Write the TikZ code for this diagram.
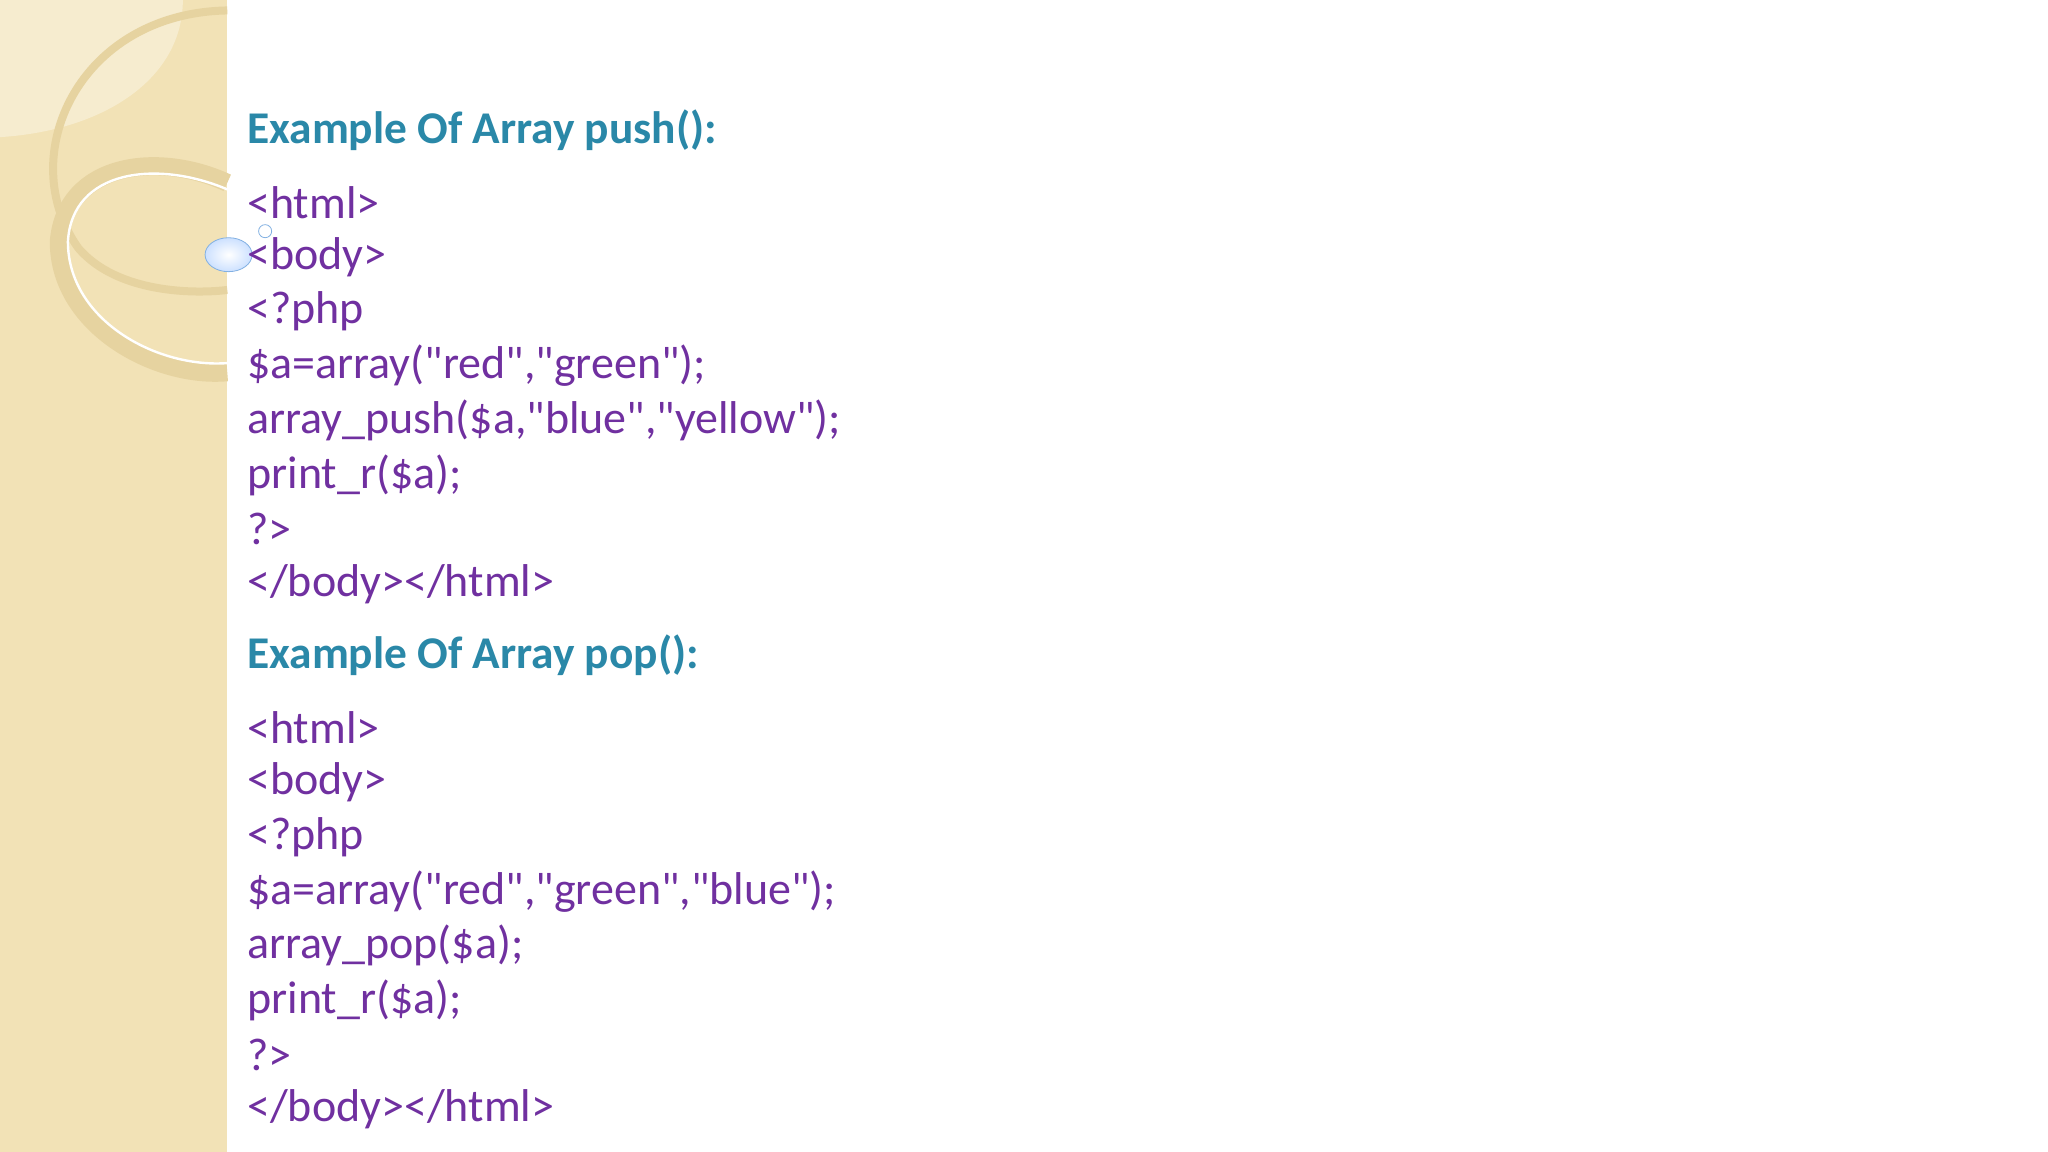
\documentclass[tikz,border=0pt]{standalone}
\usepackage{fontspec}
\setmainfont{Carlito}[Ligatures=TeXOff]
\newcommand\qq{\symbol{34}}
\begin{document}
\begin{tikzpicture}[x=0.653pt,y=-0.653pt,
  code/.style={anchor=west,inner sep=0pt,text=codepurple,font=\fontsize{23}{27}\selectfont},
  head/.style={anchor=west,inner sep=0pt,text=headteal,font=\bfseries\fontsize{22.7}{27}\selectfont}]
\definecolor{codepurple}{HTML}{7030A0}
\definecolor{headteal}{HTML}{2A88A8}
\definecolor{panel}{HTML}{F2E2B6}
\definecolor{ring}{HTML}{E6D3A0}
\useasboundingbox (0,0) rectangle (1568,882);
\fill[white] (0,0) rectangle (1568,882);
\fill[panel] (0,0) rectangle (174,882);
\fill[white,opacity=0.35] (0,0) -- (140,0) .. controls (140,60) and (80,100) .. (0,105) -- cycle;
\draw[ring,line width=4pt] (174,8) .. controls (60,10) and (10,120) .. (60,190) .. controls (90,225) and (150,225) .. (174,222);
\draw[ring,line width=9pt] (174,140) .. controls (120,115) and (50,125) .. (45,185) .. controls (45,250) and (120,290) .. (174,285);
\draw[white,line width=1.2pt] (174,145) .. controls (120,122) and (55,130) .. (52,185) .. controls (52,245) and (120,282) .. (174,278);
\shade[inner color=white,outer color=cyan!40!blue!20,draw=cyan!60!blue!50] (175,195) ellipse (18 and 13);
\draw[cyan!60!blue!50,fill=white] (203,177) circle (5);
\node[head] (h1) at (189,100) {Example Of Array push():};
\node[code] (a1) at (189,155) {<html>};
\node[code] (a2) at (189,197) {<body>};
\node[code] (a3) at (189,238) {<?php};
\node[code] (a4) at (189,280) {\$a=array(\qq red\qq,\qq green\qq);};
\node[code] (a5) at (189,322) {array\_push(\$a,\qq blue\qq,\qq yellow\qq);};
\node[code] (a6) at (189,364) {print\_r(\$a);};
\node[code] (a7) at (189,405) {?>};
\node[code] (a8) at (189,447) {</body></html>};
\node[head] (h2) at (189,502) {Example Of Array pop():};
\node[code] (b1) at (189,557) {<html>};
\node[code] (b2) at (189,599) {<body>};
\node[code] (b3) at (189,641) {<?php};
\node[code] (b4) at (189,683) {\$a=array(\qq red\qq,\qq green\qq,\qq blue\qq);};
\node[code] (b5) at (189,724) {array\_pop(\$a);};
\node[code] (b6) at (189,766) {print\_r(\$a);};
\node[code] (b7) at (189,808) {?>};
\node[code] (b8) at (189,849) {</body></html>};
\end{tikzpicture}
\end{document}
